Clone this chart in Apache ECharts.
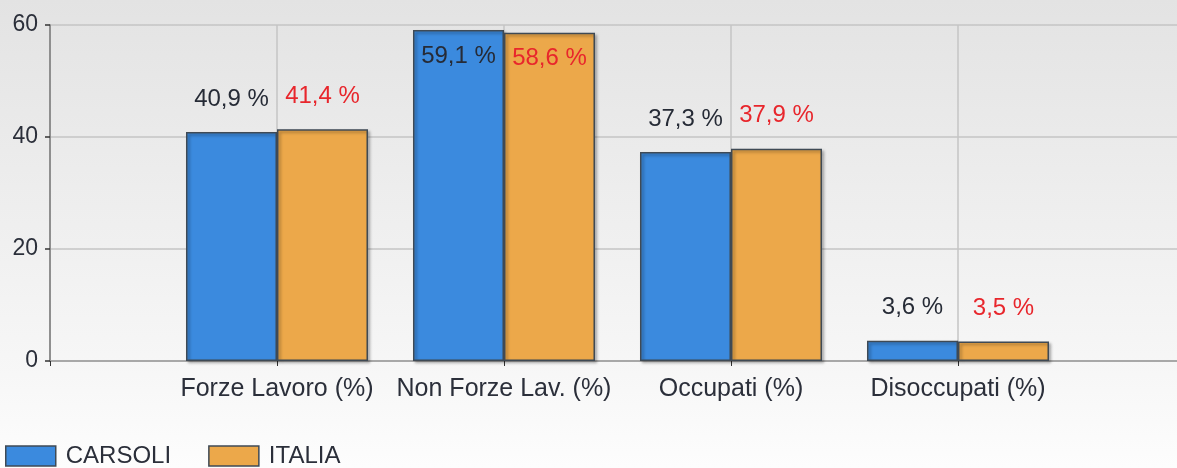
<!DOCTYPE html>
<html>
<head>
<meta charset="utf-8">
<script src="https://cdn.jsdelivr.net/npm/echarts@6/dist/echarts.min.js"></script>
<style>
  html, body { margin: 0; padding: 0; }
  #chart { width: 1177px; height: 468px; }
</style>
</head>
<body>
<div id="chart"></div>
<script>
// categorie (la prima e l'ultima sono vuote, come nel grafico originale)
var categories = ['', 'Forze Lavoro (%)', 'Non Forze Lav. (%)', 'Occupati (%)', 'Disoccupati (%)', ''];
var carsoli = [null, 40.9, 59.1, 37.3, 3.6, null];
var italia = [null, 41.4, 58.6, 37.9, 3.5, null];
var seriesNames = ['CARSOLI', 'ITALIA'];
var yMin = 0, yMax = 60, yStep = 20;

var FONT = '"Liberation Sans", Arial, sans-serif';

// formato italiano: virgola decimale
function fmt(v) {
  return v.toFixed(1).replace('.', ',') + ' %';
}

// se la barra arriva quasi in cima, l'etichetta va dentro
function toItems(values) {
  return values.map(function (v) {
    if (v == null) return null;
    if (v > 55) {
      return { value: v, label: { position: 'insideTop', distance: 14 } };
    }
    return v;
  });
}

function barSeries(name, values, color, labelColor) {
  return {
    name: name,
    type: 'bar',
    barWidth: 91,
    barGap: '0%',
    data: toItems(values),
    itemStyle: {
      color: color,
      borderColor: '#3f4a55',
      borderWidth: 1.5,
      shadowColor: 'rgba(0,0,0,0.35)',
      shadowBlur: 3,
      shadowOffsetX: 2,
      shadowOffsetY: 2
    },
    label: {
      show: true,
      position: 'top',
      distance: 21,
      color: labelColor,
      fontFamily: FONT,
      fontSize: 24,
      formatter: function (p) { return fmt(p.value); }
    },
    animation: false
  };
}

var chart = echarts.init(document.getElementById('chart'));
chart.setOption({
  backgroundColor: {
    type: 'linear', x: 0, y: 0, x2: 0, y2: 1,
    colorStops: [
      { offset: 0, color: '#e3e3e3' },
      { offset: 0.8, color: '#f7f7f7' },
      { offset: 1, color: '#fdfdfd' }
    ]
  },
  grid: {
    left: 50,
    right: -8,
    top: 25,
    bottom: 107,
    containLabel: false,
    outerBoundsMode: 'none'
  },
  legend: {
    left: 0,
    bottom: -5,
    itemWidth: 50,
    itemHeight: 20,
    itemGap: 37,
    icon: 'rect',
    textStyle: { color: '#2b2f3a', fontFamily: FONT, fontSize: 24, padding: [0, 0, 0, 5] },
    itemStyle: { borderColor: '#3f4a55', borderWidth: 1.5 },
    data: seriesNames
  },
  xAxis: {
    type: 'category',
    data: categories,
    boundaryGap: false,
    axisLine: { lineStyle: { color: '#9a9a9a', width: 1.5 } },
    axisTick: { show: true, interval: 0, length: 5, lineStyle: { color: '#333' } },
    axisLabel: {
      interval: 0,
      margin: 16,
      color: '#2b2f3a',
      fontFamily: FONT,
      fontSize: 25
    },
    splitLine: { show: true, interval: 0, lineStyle: { color: '#c4c4c4', width: 1.5 } }
  },
  yAxis: {
    type: 'value',
    min: yMin,
    max: yMax,
    interval: yStep,
    axisLine: { show: true, lineStyle: { color: '#7a7a7a', width: 1.5 } },
    axisTick: { show: true, length: 5, lineStyle: { color: '#333', width: 1.5 } },
    axisLabel: {
      margin: 12,
      color: '#2b2f3a',
      fontFamily: FONT,
      fontSize: 23
    },
    splitLine: { show: true, lineStyle: { color: '#c4c4c4', width: 1.5 } }
  },
  series: [
    barSeries(seriesNames[0], carsoli, '#3b8ade', '#262b36'),
    barSeries(seriesNames[1], italia, '#eca84a', '#e8262c')
  ]
});
</script>
</body>
</html>
